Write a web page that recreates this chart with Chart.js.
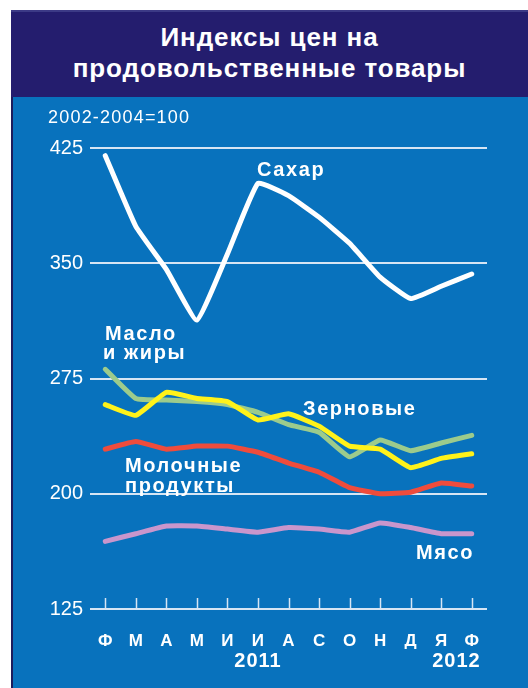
<!DOCTYPE html>
<html><head><meta charset="utf-8">
<script src="https://cdn.jsdelivr.net/npm/chart.js@4"></script>
<style>
html,body{margin:0;padding:0;background:#fff;width:528px;height:688px;overflow:hidden;font-family:"Liberation Sans",Arial,sans-serif}
#navy{position:absolute;left:11px;top:10px;width:517px;height:87px;background:#241d6e;border-top:2px solid #3c3a86;box-sizing:border-box}
#blue{position:absolute;left:11px;top:97px;width:517px;height:591px;background:#0872bd;border-left:2px solid #1c1b5c;box-sizing:border-box}
#title{position:absolute;left:11px;top:22px;width:517px;text-align:center;color:#fff;font-weight:bold;font-size:26px;line-height:31px;letter-spacing:0.9px}
#wrap{position:absolute;left:0;top:0;width:528px;height:688px}
</style></head>
<body>
<div id="navy"></div>
<div id="blue"></div>
<div id="title">Индексы цен на<br>продовольственные товары</div>
<div id="wrap"><canvas id="c" width="528" height="688"></canvas></div>
<script>
const months = ['Ф','М','А','М','И','И','А','С','О','Н','Д','Я','Ф'];
const years = ['2011','2012'];
const yTicks = [125, 200, 275, 350, 425];
const baseNote = '2002-2004=100';
const sugar   = [420, 374, 346, 313, 356, 402, 394, 380, 363, 341, 327, 335, 343];
const oils    = [281, 262, 261, 260, 258, 253, 245, 240, 224, 235, 228, 233, 238];
const cereals = [258, 251, 266, 262, 260, 248, 252, 244, 231, 229, 217, 223, 226];
const dairy   = [229, 234, 229, 231, 231, 227, 220, 214, 204, 200, 201, 207, 205];
const meat    = [169, 174, 179, 179, 177, 175, 178, 177, 175, 181, 178, 174, 174];

const F = '"Liberation Sans", Arial, sans-serif';

const overlay = {
  id: 'overlay',
  beforeDatasetsDraw(chart) {
    const ctx = chart.ctx, xs = chart.scales.x, ys = chart.scales.y;
    const base = ys.getPixelForValue(yTicks[0]);
    ctx.save();
    ctx.strokeStyle = '#d6e5f4';
    ctx.lineWidth = 1.5;
    months.forEach((m, i) => {
      const px = Math.round(xs.getPixelForValue(i)) + 0.5;
      ctx.beginPath(); ctx.moveTo(px, base); ctx.lineTo(px, base - 11); ctx.stroke();
    });
    ctx.restore();
  },
  afterDraw(chart) {
    const ctx = chart.ctx, xs = chart.scales.x;
    ctx.save();
    ctx.fillStyle = '#ffffff';
    ctx.textBaseline = 'middle';
    // base note
    ctx.font = '18px ' + F;
    ctx.letterSpacing = '1.2px';
    ctx.textAlign = 'left';
    ctx.fillText(baseNote, 48, 118);
    // years
    ctx.font = 'bold 20px ' + F;
    ctx.letterSpacing = '1px';
    ctx.textAlign = 'center';
    ctx.fillText(years[0], xs.getPixelForValue(5), 661);
    ctx.fillText(years[1], (xs.getPixelForValue(11) + xs.getPixelForValue(12)) / 2, 661);
    // series labels
    ctx.textAlign = 'left';
    ctx.font = 'bold 20px ' + F;
    ctx.letterSpacing = '1.6px';
    const labels = [
      ['Сахар', 257, 170],
      ['Масло', 105, 334],
      ['и жиры', 103, 353],
      ['Зерновые', 303, 409],
      ['Молочные', 125, 466],
      ['продукты', 125, 486],
      ['Мясо', 416, 553]
    ];
    labels.forEach(([t, x, y]) => ctx.fillText(t, x, y));
    ctx.restore();
  }
};

function ds(label, data, color) {
  return { label, data, borderColor: color, backgroundColor: color, borderWidth: 5,
    pointRadius: 0, tension: 0.12, borderJoinStyle: 'round', borderCapStyle: 'round', fill: false };
}

new Chart(document.getElementById('c'), {
  type: 'line',
  data: {
    labels: months,
    datasets: [
      ds('Сахар', sugar, '#ffffff'),
      ds('Зерновые', cereals, '#fff21a'),
      ds('Масло и жиры', oils, '#9ccb8c'),
      ds('Молочные продукты', dairy, '#ef4c3c'),
      ds('Мясо', meat, '#c996cc')
    ]
  },
  options: {
    responsive: false,
    animation: false,
    devicePixelRatio: 1,
    layout: { padding: { left: 46, right: 41, top: 148, bottom: 19 } },
    plugins: { legend: { display: false }, tooltip: { enabled: false }, title: { display: false } },
    scales: {
      x: {
        type: 'category',
        offset: true,
        grid: { display: false },
        border: { display: false },
        ticks: { color: '#ffffff', font: { family: F, size: 17, weight: 'bold' }, padding: 14, maxRotation: 0, autoSkip: false },
        afterFit(s) { s.height = 60; }
      },
      y: {
        min: yTicks[0], max: yTicks[yTicks.length - 1],
        afterBuildTicks(s) { s.ticks = yTicks.map(v => ({ value: v })); },
        grid: { color: '#d6e5f4', lineWidth: 2, drawTicks: false },
        border: { display: false },
        ticks: { color: '#ffffff', font: { family: F, size: 20 }, padding: 7 },
        afterFit(s) { s.width = 44; }
      }
    }
  },
  plugins: [overlay]
});
</script>
</body></html>
